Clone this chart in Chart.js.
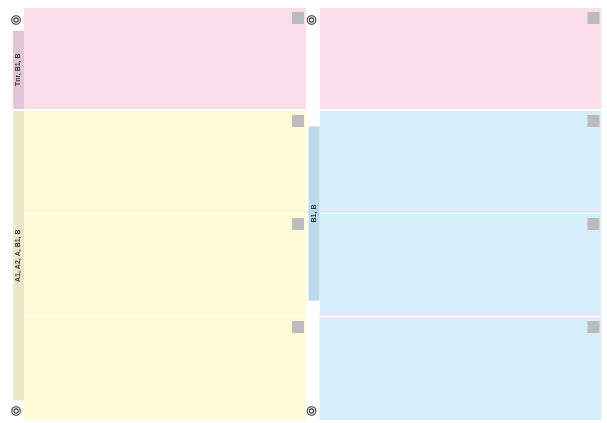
<!DOCTYPE html>
<html>
<head>
<meta charset="utf-8">
<script src="https://cdn.jsdelivr.net/npm/chart.js@4"></script>
<style>
  html, body { margin: 0; padding: 0; background: #fff; }
  #wrap { width: 607px; height: 423px; }
</style>
</head>
<body>
<div id="wrap"><canvas id="c"></canvas></div>
<script>
// two columns of panels, four rows each
const columns = [0, 1];
const rows = ["r1", "r2", "r3", "r4"];
const rowSize = [1, 1, 1, 1];
const leftColors = ["#fcdeea", "#fffbd7", "#fffbd7", "#fffbd7"];
const rightColors = ["#fcdeea", "#d4eefa", "#d4eefa", "#d4eefa"];
const rowGap = [2, 1, 1, 0];

// bracket strips along the left side of a column, in row units
const groupLabels = ["Tnr, B1, B", "A1, A2, A, B1, B", "B1, B"];
const groupColumn = [0, 0, 1];
const groupStart = [0.22, 1.0, 1.15];
const groupEnd = [0.98, 3.81, 2.84];
const groupColors = ["#e3c6d8", "#ece7c8", "#bad9eb"];

const datasets = rows.map((r, i) => ({
  label: r,
  data: columns.map(c => ({ x: c, y: rowSize[i] })),
  backgroundColor: [leftColors[i], rightColors[i]],
  borderColor: "#ffffff",
  borderWidth: { top: 0, left: 0, right: 0, bottom: rowGap[i] },
  borderSkipped: false,
  barPercentage: 0.954,
  categoryPercentage: 1,
}));

function panelBox(el) {
  const p = el.getProps(["x", "y", "base", "width"], true);
  return {
    left: p.x - p.width / 2,
    right: p.x + p.width / 2,
    top: Math.min(p.y, p.base),
    bottom: Math.max(p.y, p.base),
  };
}

function ring(ctx, x, y) {
  ctx.save();
  ctx.strokeStyle = "#333";
  ctx.lineWidth = 1.1;
  ctx.beginPath();
  ctx.arc(x, y, 4.3, 0, Math.PI * 2);
  ctx.stroke();
  ctx.beginPath();
  ctx.arc(x, y, 2.1, 0, Math.PI * 2);
  ctx.stroke();
  ctx.restore();
}

const decor = {
  id: "decor",
  afterDatasetsDraw(chart) {
    const ctx = chart.ctx;
    const y = chart.scales.y;
    const boxes = chart.data.datasets.map((d, i) =>
      chart.getDatasetMeta(i).data.map(panelBox));

    // grey tags in each panel corner
    ctx.save();
    ctx.fillStyle = "#bcbcbc";
    boxes.forEach(row => row.forEach(b => {
      ctx.fillRect(b.right - 14, b.top + 4, 12, 12);
    }));
    ctx.restore();

    // label strips
    groupLabels.forEach((txt, g) => {
      const b = boxes[0][groupColumn[g]];
      const y0 = y.getPixelForValue(groupStart[g]);
      const y1 = y.getPixelForValue(groupEnd[g]);
      const top = Math.min(y0, y1), h = Math.abs(y1 - y0);
      ctx.save();
      ctx.fillStyle = groupColors[g];
      ctx.fillRect(b.left - 11, top, 11, h);
      ctx.translate(b.left - 5.5, top + h / 2);
      ctx.rotate(-Math.PI / 2);
      ctx.fillStyle = "#333";
      ctx.font = "bold 7px 'Liberation Sans', Arial, sans-serif";
      ctx.textAlign = "center";
      ctx.textBaseline = "middle";
      ctx.fillText(txt, 0, 0);
      ctx.restore();
    });

    // ring markers at top and bottom of each column
    const last = boxes.length - 1;
    columns.forEach(c => {
      ring(ctx, boxes[0][c].left - 8, boxes[0][c].top + 12);
      ring(ctx, boxes[last][c].left - 8, boxes[last][c].bottom - 9);
    });
  },
};

new Chart(document.getElementById("c"), {
  type: "bar",
  data: { datasets },
  options: {
    responsive: true,
    maintainAspectRatio: false,
    animation: false,
    layout: { padding: { top: 8, bottom: 3, left: 0, right: 0 } },
    plugins: { legend: { display: false }, tooltip: { enabled: false } },
    scales: {
      x: {
        type: "linear",
        display: false,
        stacked: true,
        offset: false,
        min: -0.5584,
        max: 1.4957,
        afterBuildTicks: axis => { axis.ticks = columns.map(v => ({ value: v })); },
      },
      y: {
        display: false,
        stacked: true,
        reverse: true,
        min: 0,
        max: 4,
      },
    },
  },
  plugins: [decor],
});
</script>
</body>
</html>
